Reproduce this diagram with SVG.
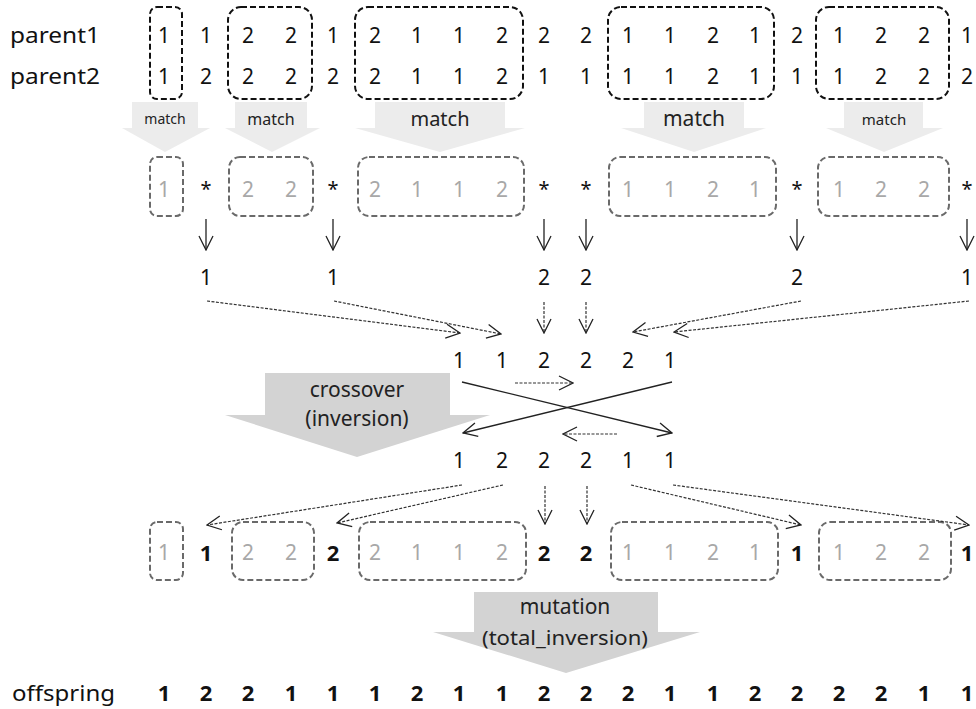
<svg xmlns="http://www.w3.org/2000/svg" width="976" height="709" viewBox="0 0 976 709">
<style>
text{font-family:"Noto Sans","Liberation Sans",sans-serif;fill:#111}
.d{font-size:21px;text-anchor:middle}
.lt{fill:#a8a8a8}
.b{font-weight:bold;font-size:22px}
.st{font-size:20px;text-anchor:middle}
.lbl{font-size:22px}
.bx{fill:none;stroke:#111;stroke-width:2;stroke-dasharray:6 3}
.gb{fill:none;stroke:#6a6a6a;stroke-width:2;stroke-dasharray:6 3}
.mt{fill:#ececec}
.bg{fill:#d3d3d3}
.sl{fill:none;stroke:#222;stroke-width:1.3}
.dl{fill:none;stroke:#333;stroke-width:1.2;stroke-dasharray:3 1.5}
.ms{text-anchor:middle;fill:#222}
</style>
<defs>
<marker id="ah" markerUnits="userSpaceOnUse" markerWidth="16" markerHeight="16" viewBox="0 0 16 16" refX="15" refY="8" orient="auto">
<path d="M1,1 L15,8 L1,15" fill="none" stroke="#222" stroke-width="1.3"/>
</marker>
</defs>

<g id="parent1">
<text class="lbl" x="10" y="43" textLength="90" lengthAdjust="spacingAndGlyphs">parent1</text>
<text class="d" x="164 206 248 291 333 375 417 459 502 544 586 628 670 713 755 797 839 881 924 967" y="43">11221211222112121221</text>
</g>
<g id="parent2">
<text class="lbl" x="10" y="84" textLength="90" lengthAdjust="spacingAndGlyphs">parent2</text>
<text class="d" x="164 206 248 291 333 375 417 459 502 544 586 628 670 713 755 797 839 881 924 967" y="84">12222211211112111222</text>
</g>
<g id="match-boxes">
<rect class="bx" x="150" y="7" width="32" height="92" rx="7"/>
<rect class="bx" x="228" y="7" width="84" height="92" rx="13"/>
<rect class="bx" x="355" y="7" width="168" height="92" rx="13"/>
<rect class="bx" x="608" y="7" width="166" height="92" rx="13"/>
<rect class="bx" x="816" y="7" width="133" height="92" rx="13"/>
</g>

<g id="match-arrows">
<polygon class="mt" points="132,102 198,102 198,128 210,128 165,152 122,128 132,128"/>
<polygon class="mt" points="235,102 307,102 307,128 320,128 272,152 225,128 235,128"/>
<polygon class="mt" points="375,102 505,102 505,128 525,128 440,152 355,128 375,128"/>
<polygon class="mt" points="644,102 744,102 744,128 766,128 694,152 621,128 644,128"/>
<polygon class="mt" points="844,102 923,102 923,128 943,128 884,152 826,128 844,128"/>
<text class="ms" x="165" y="124" font-size="14">match</text>
<text class="ms" x="271" y="125" font-size="16">match</text>
<text class="ms" x="440" y="126" font-size="20">match</text>
<text class="ms" x="694" y="126" font-size="21">match</text>
<text class="ms" x="884" y="125" font-size="15">match</text>
</g>

<g id="masked-row">
<rect class="gb" x="150" y="157" width="33" height="59" rx="7"/>
<rect class="gb" x="229" y="157" width="84" height="59" rx="11"/>
<rect class="gb" x="358" y="157" width="166" height="59" rx="11"/>
<rect class="gb" x="609" y="157" width="167" height="59" rx="11"/>
<rect class="gb" x="818" y="157" width="131" height="59" rx="11"/>
<text class="d lt" x="164" y="197">1</text>
<text class="d lt" x="248 291" y="197">22</text>
<text class="d lt" x="375 417 459 502" y="197">2112</text>
<text class="d lt" x="628 670 713 755" y="197">1121</text>
<text class="d lt" x="839 881 924" y="197">122</text>
<text class="st" x="206" y="196">*</text>
<text class="st" x="333" y="196">*</text>
<text class="st" x="544" y="196">*</text>
<text class="st" x="586" y="196">*</text>
<text class="st" x="797" y="196">*</text>
<text class="st" x="967" y="196">*</text>
</g>

<g id="picked">
<text class="d" x="206" y="285">1</text>
<text class="d" x="333" y="285">1</text>
<text class="d" x="544" y="285">2</text>
<text class="d" x="586" y="285">2</text>
<text class="d" x="797" y="285">2</text>
<text class="d" x="967" y="285">1</text>
</g>

<g id="cross-in">
<text class="d" x="459 502 544 586 628 670" y="368">112221</text>
</g>
<g id="cross-out">
<text class="d" x="459 502 544 586 628 670" y="468">122211</text>
</g>

<g id="crossover-arrow">
<polygon class="bg" points="265,373 450,373 450,415 490,415 357,457 225,415 265,415"/>
<text class="ms" x="357" y="397" font-size="21">crossover</text>
<text class="ms" x="357" y="426" font-size="21">(inversion)</text>
</g>

<g id="result-row">
<rect class="gb" x="150" y="522" width="33" height="58" rx="7"/>
<rect class="gb" x="232" y="522" width="82" height="58" rx="11"/>
<rect class="gb" x="359" y="522" width="167" height="58" rx="11"/>
<rect class="gb" x="611" y="522" width="167" height="58" rx="11"/>
<rect class="gb" x="819" y="522" width="132" height="58" rx="11"/>
<text class="d lt" x="164" y="560">1</text>
<text class="d lt" x="248 291" y="560">22</text>
<text class="d lt" x="375 417 459 502" y="560">2112</text>
<text class="d lt" x="628 670 713 755" y="560">1121</text>
<text class="d lt" x="839 881 924" y="560">122</text>
<text class="d b" x="206" y="561">1</text>
<text class="d b" x="333" y="561">2</text>
<text class="d b" x="544" y="561">2</text>
<text class="d b" x="586" y="561">2</text>
<text class="d b" x="797" y="561">1</text>
<text class="d b" x="967" y="561">1</text>
</g>

<g id="mutation-arrow">
<polygon class="bg" points="474,592 658,592 658,632 700,632 566,673 433,632 474,632"/>
<text class="ms" x="565" y="614" font-size="21">mutation</text>
<text class="ms" x="565" y="645" font-size="19" textLength="166" lengthAdjust="spacingAndGlyphs">(total_inversion)</text>
</g>

<g id="offspring">
<text class="lbl" x="12" y="701" textLength="103" lengthAdjust="spacingAndGlyphs">offspring</text>
<text class="d b" font-size="23" x="164 206 248 291 333 375 417 459 502 544 586 628 670 713 755 797 839 881 924 967" y="701">12211121122211222211</text>
</g>

<g id="connectors">
<line class="sl" x1="206" y1="219" x2="206" y2="250" marker-end="url(#ah)"/>
<line class="sl" x1="333" y1="219" x2="333" y2="250" marker-end="url(#ah)"/>
<line class="sl" x1="544" y1="219" x2="544" y2="250" marker-end="url(#ah)"/>
<line class="sl" x1="586" y1="219" x2="586" y2="250" marker-end="url(#ah)"/>
<line class="sl" x1="797" y1="219" x2="797" y2="250" marker-end="url(#ah)"/>
<line class="sl" x1="967" y1="219" x2="967" y2="250" marker-end="url(#ah)"/>

<line class="dl" x1="207" y1="301" x2="460" y2="333" marker-end="url(#ah)"/>
<line class="dl" x1="334" y1="301" x2="501" y2="334" marker-end="url(#ah)"/>
<line class="dl" x1="544" y1="302" x2="544" y2="333" marker-end="url(#ah)"/>
<line class="dl" x1="586" y1="302" x2="586" y2="333" marker-end="url(#ah)"/>
<line class="dl" x1="801" y1="301" x2="633" y2="332" marker-end="url(#ah)"/>
<line class="dl" x1="969" y1="301" x2="674" y2="332" marker-end="url(#ah)"/>

<line class="sl" x1="462" y1="382" x2="672" y2="433" marker-end="url(#ah)"/>
<line class="sl" x1="672" y1="382" x2="463" y2="433" marker-end="url(#ah)"/>
<line class="dl" x1="515" y1="383" x2="573" y2="383" marker-end="url(#ah)"/>
<line class="dl" x1="617" y1="434" x2="563" y2="434" marker-end="url(#ah)"/>

<line class="dl" x1="462" y1="485" x2="207" y2="525" marker-end="url(#ah)"/>
<line class="dl" x1="503" y1="485" x2="337" y2="523" marker-end="url(#ah)"/>
<line class="dl" x1="545" y1="486" x2="545" y2="524" marker-end="url(#ah)"/>
<line class="dl" x1="587" y1="486" x2="587" y2="524" marker-end="url(#ah)"/>
<line class="dl" x1="631" y1="485" x2="801" y2="525" marker-end="url(#ah)"/>
<line class="dl" x1="673" y1="485" x2="969" y2="525" marker-end="url(#ah)"/>
</g>
</svg>
